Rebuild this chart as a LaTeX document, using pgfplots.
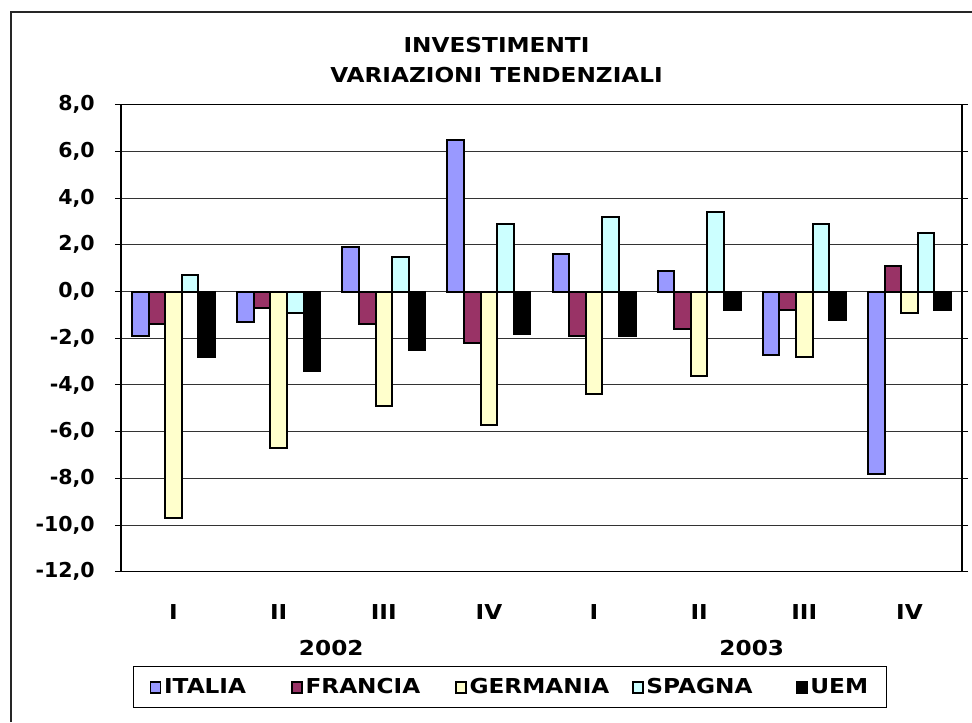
\documentclass[border=0pt]{standalone}
\usepackage{fontspec}
\setmainfont{DejaVu Sans}
\newfontfamily\wide[FakeStretch=1.13]{DejaVu Sans}
\usepackage{pgfplots}
\pgfplotsset{compat=1.18}
\definecolor{cItalia}{HTML}{9999FF}
\definecolor{cFrancia}{HTML}{993366}
\definecolor{cGermania}{HTML}{FFFFCC}
\definecolor{cSpagna}{HTML}{CCFFFF}
\definecolor{cUem}{HTML}{000000}
\newcommand{\cf}{\fontsize{15.4}{18}\selectfont\bfseries}
\newcommand{\wf}{\wide\fontsize{15.4}{18}\selectfont\bfseries}
\begin{document}
\begin{tikzpicture}
\path[use as bounding box] (0,0) rectangle (729pt,541.5pt);
\draw[line width=1.1pt, black!85] (8.25pt,0) -- (8.25pt,532.5pt) -- (729pt,532.5pt);
\node[inner sep=0pt, font=\wf] at (372.4pt,508pt) {INVESTIMENTI};
\node[inner sep=0pt, font=\wf] at (372.4pt,485.6pt) {VARIAZIONI TENDENZIALI};
\begin{axis}[
  at={(90.75pt,112.7pt)}, anchor=south west,
  width=630.75pt, height=350.25pt, scale only axis,
  xmin=-0.5, xmax=7.5, ymin=-12, ymax=8,
  ybar=0pt, bar width=0.158,
  xtick={0,...,7}, xticklabels={I,II,III,IV,I,II,III,IV},
  ytick={-12,-10,...,8},
  major x tick style={draw=none},
  tick align=outside, major tick length=4.5pt,
  y tick style={black, line width=0.8pt},
  ymajorgrids, grid style={black!80, line width=0.8pt},
  axis line style={black, line width=1.1pt},
  yticklabel style={font=\cf},
  xticklabel style={font=\wf},
  /pgf/number format/.cd, use comma, fixed, fixed zerofill, precision=1, assume math mode=true,
  /pgfplots/.cd,
  yticklabel style={inner sep=0pt, anchor=east, xshift=-15pt},
  xticklabel style={inner sep=0pt, anchor=north, yshift=-19.7pt},
  clip=false,
  legend columns=5,
  legend style={at={(0.0143,-0.2019)}, anchor=north west, draw=black, line width=0.8pt,
    inner xsep=12pt, inner ysep=7pt, font=\wf,
    /tikz/every even column/.append style={column sep=0pt},
    nodes={inner xsep=2pt, inner ysep=2pt, anchor=west}},
  legend image code/.code={\draw[#1, draw=black, line width=1.4pt] (0pt,-4.1pt) rectangle (7.5pt,4.1pt);},
]
\addplot[draw=black, line width=1.5pt, fill=cItalia] coordinates {(0,-1.9) (1,-1.3) (2,1.9) (3,6.5) (4,1.6) (5,0.9) (6,-2.7) (7,-7.8)};
\addplot[draw=black, line width=1.5pt, fill=cFrancia] coordinates {(0,-1.4) (1,-0.7) (2,-1.4) (3,-2.2) (4,-1.9) (5,-1.6) (6,-0.8) (7,1.1)};
\addplot[draw=black, line width=1.5pt, fill=cGermania] coordinates {(0,-9.7) (1,-6.7) (2,-4.9) (3,-5.7) (4,-4.4) (5,-3.6) (6,-2.8) (7,-0.9)};
\addplot[draw=black, line width=1.5pt, fill=cSpagna] coordinates {(0,0.7) (1,-0.9) (2,1.5) (3,2.9) (4,3.2) (5,3.4) (6,2.9) (7,2.5)};
\addplot[draw=black, line width=1.5pt, fill=cUem] coordinates {(0,-2.8) (1,-3.4) (2,-2.5) (3,-1.8) (4,-1.9) (5,-0.8) (6,-1.2) (7,-0.8)};
\legend{\makebox[93.2pt][l]{ITALIA},\makebox[110.1pt][l]{FRANCIA},\makebox[119.8pt][l]{GERMANIA},\makebox[110pt][l]{SPAGNA},UEM}
\node[inner sep=0pt, font=\wf] at (axis cs:1.5,-12) [yshift=-56.85pt] {2002};
\node[inner sep=0pt, font=\wf] at (axis cs:5.5,-12) [yshift=-56.85pt] {2003};
\end{axis}
\end{tikzpicture}
\end{document}
